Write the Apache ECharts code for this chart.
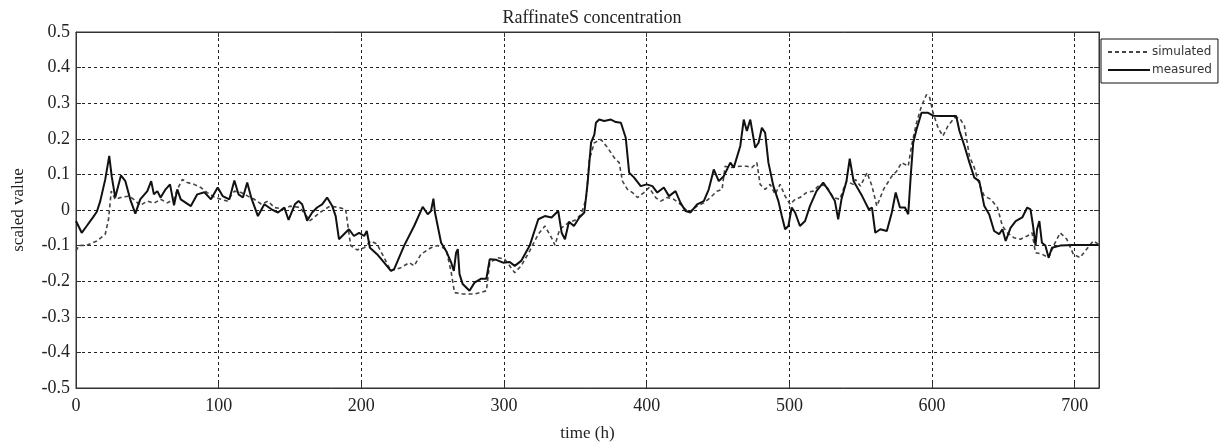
<!DOCTYPE html>
<html lang="en">
  <head>
    <meta charset="UTF-8">
    <title>RaffinateS concentration</title>
    <script src="https://cdn.jsdelivr.net/npm/echarts@6/dist/echarts.min.js"></script>
    <style>
      html, body { margin: 0; padding: 0; background: #fff; }
    </style>
  </head>
  <body>
    <div id="main" style="width: 1229px;height:447px;"></div>
    <script type="text/javascript">
      // time axis (h) and scaled values
      var measTime = [0, 4, 7.5, 12, 14.6, 17, 20.5, 23.3, 25, 27.5, 31.5, 34.6, 38, 41.6, 45, 50, 52.7, 54.6, 57, 59.3,
        62.8, 65.9, 68.7, 71, 73.4, 80.5, 85, 90, 94.6, 99.3, 102.8, 107.5, 111, 113.9, 117, 120, 122.8, 127.5, 132, 137,
        141.6, 146, 149, 153.4, 156, 158.5, 162, 165.5, 169, 172.5, 176, 179.6, 182, 184.3, 187.8, 191.3, 194.8, 198.4, 202, 203.8,
        206, 211, 216, 220.7, 223, 230, 237, 243, 246.5, 248.8, 250.5, 251.6, 255.9, 259.4, 263, 264.8, 266.4, 267.6, 268.8, 271,
        275.8, 279.3, 284, 287.6, 290, 294.6, 299.3, 304, 307.5, 312, 318, 324, 328.6, 333.3, 338, 340.4, 342.7, 345.5, 349, 352.8,
        356.3, 358.6, 361, 363.3, 364.4, 366.7, 370.2, 374.9, 378.4, 381.9, 385.3, 387.7, 391.2, 395.8, 400, 404, 407.4, 412, 415.6, 420.2,
        423.7, 427.2, 430.7, 435.3, 440, 443.5, 447, 450.5, 454, 458.6, 461, 465.6, 468, 470.2, 472.6, 476, 478.4, 480.7, 483, 485.3,
        488.8, 492.3, 494.7, 497, 499.3, 501.6, 504, 507.4, 511, 514.4, 519, 523.7, 528.4, 531.9, 534.2, 536.5, 540, 542.3, 545, 551,
        555.6, 557.9, 560.2, 563.7, 568.3, 571.8, 574.5, 577.5, 581, 583.3, 585.2, 586.8, 589.1, 592.6, 597.2, 600.7, 606.5, 616.9, 619.2, 622.7,
        626.2, 629.6, 633.1, 636.6, 640, 643.5, 647, 649.3, 651.6, 655, 658.6, 663.2, 666.7, 669, 670.8, 672.5, 673.6, 675.2, 677, 679.4,
        681.7, 684, 689.8, 699, 716.7];
    var measValue = [-0.031, -0.064, -0.045, -0.02, -0.005, 0.025, 0.086, 0.152, 0.095, 0.035, 0.097, 0.081, 0.03, -0.01, 0.03, 0.053, 0.081, 0.044, 0.053, 0.035,
        0.058, 0.072, 0.013, 0.058, 0.03, 0.011, 0.044, 0.05, 0.03, 0.063, 0.039, 0.03, 0.083, 0.044, 0.035, 0.077, 0.035, -0.017, 0.016, 0.002,
        -0.007, 0.007, -0.028, 0.016, 0.025, 0.016, -0.03, -0.007, 0.007, 0.016, 0.035, 0.011, -0.017, -0.082, -0.068, -0.054, -0.073, -0.064, -0.073, -0.059,
        -0.106, -0.124, -0.148, -0.171, -0.166, -0.1, -0.045, 0.009, -0.012, -0.003, 0.032, -0.007, -0.092, -0.115, -0.148, -0.171, -0.12, -0.11, -0.18, -0.208,
        -0.227, -0.204, -0.193, -0.193, -0.138, -0.14, -0.148, -0.146, -0.157, -0.143, -0.1, -0.026, -0.017, -0.021, -0.003, -0.064, -0.082, -0.033, -0.045, -0.021,
        -0.007, 0.077, 0.189, 0.212, 0.245, 0.254, 0.25, 0.254, 0.247, 0.245, 0.203, 0.105, 0.091, 0.067, 0.072, 0.067, 0.049, 0.063, 0.039, 0.053,
        0.02, -0.003, -0.007, 0.016, 0.025, 0.058, 0.114, 0.081, 0.095, 0.133, 0.119, 0.18, 0.254, 0.222, 0.254, 0.175, 0.189, 0.231, 0.217, 0.133,
        0.067, 0.025, -0.017, -0.054, -0.045, 0.007, -0.007, -0.045, -0.031, 0.011, 0.053, 0.077, 0.049, 0.025, -0.026, 0.03, 0.081, 0.144, 0.081, 0.039,
        0.002, 0.007, -0.064, -0.054, -0.059, -0.007, 0.049, 0.007, 0.007, -0.012, 0.105, 0.189, 0.226, 0.273, 0.273, 0.265, 0.264, 0.264, 0.222, 0.18,
        0.133, 0.091, 0.081, 0.011, -0.012, -0.059, -0.068, -0.054, -0.087, -0.05, -0.031, -0.021, 0.007, 0.002, -0.045, -0.1, -0.054, -0.031, -0.092, -0.1,
        -0.134, -0.106, -0.1, -0.098, -0.098];

      var simTime = [0, 2, 7.5, 14.6, 20.5, 22.8, 24.7, 27.5, 32, 37, 40.5, 45, 50, 54.6, 59.3, 64, 68.7, 71, 74.6, 78,
        82.8, 87.5, 92, 97, 101.6, 106, 111, 115.8, 120.5, 125, 130, 134.6, 139, 146, 150, 157, 164, 171, 178, 184.3,
        189, 192.5, 197, 202, 206.6, 211, 216, 220.7, 227.7, 233.6, 237, 241.8, 248.8, 253.5, 259.4, 263, 265.3, 271, 279.3, 287.6,
        290, 295.8, 300.5, 307.5, 312, 318, 324, 328.6, 333.3, 335.7, 339, 345, 350, 354, 357.5, 359.8, 363.3, 368, 372.6, 377.2,
        380.7, 383, 386.5, 390, 393.5, 398, 401.6, 406.3, 409.8, 414.4, 419, 423.7, 429.5, 435.3, 440, 444.6, 449.3, 452.8, 455, 458.6,
        465.6, 470.2, 473.7, 477.2, 479.5, 483, 486.5, 490, 493.5, 497, 500.5, 504, 507.4, 512, 516.7, 521.4, 526, 530.7, 535.3, 540,
        544.7, 546.3, 549.8, 554.4, 557.9, 561.3, 566, 571.8, 575.2, 578.7, 583.3, 585.6, 589.1, 592.6, 596.1, 598.4, 600.7, 604.2, 607.6, 611.1,
        615.7, 619.2, 622.7, 626.2, 629.6, 633.1, 636.6, 641.2, 645.8, 649.3, 652.8, 657.4, 662, 666.7, 670.1, 672.5, 677.1, 681.7, 685.2, 689.8,
        694.4, 699, 703.7, 708.3, 713, 716.7];
      var simValue = [-0.115, -0.1, -0.099, -0.087, -0.068, -0.026, 0.053, 0.03, 0.036, 0.039, 0.03, 0.013, 0.025, 0.019, 0.03, 0.02, 0.03, 0.058, 0.086, 0.077,
        0.072, 0.063, 0.049, 0.036, 0.03, 0.025, 0.053, 0.049, 0.039, 0.03, 0.016, 0.025, 0.007, 0.002, 0.011, 0.007, -0.03, -0.007, 0.011, 0.007,
        0.002, -0.1, -0.112, -0.106, -0.087, -0.096, -0.134, -0.171, -0.162, -0.148, -0.157, -0.124, -0.106, -0.1, -0.11, -0.176, -0.232, -0.236, -0.236, -0.227,
        -0.148, -0.134, -0.138, -0.176, -0.157, -0.115, -0.068, -0.045, -0.078, -0.099, -0.054, -0.036, -0.028, -0.012, 0.03, 0.142, 0.189, 0.198, 0.175, 0.147,
        0.133, 0.081, 0.058, 0.049, 0.035, 0.049, 0.063, 0.035, 0.025, 0.035, 0.03, 0.016, -0.007, 0.011, 0.02, 0.035, 0.053, 0.058, 0.123, 0.119,
        0.123, 0.123, 0.119, 0.133, 0.072, 0.058, 0.072, 0.044, 0.072, 0.039, 0.016, 0.03, 0.035, 0.049, 0.053, 0.072, 0.067, 0.035, 0.03, 0.081,
        0.072, 0.086, 0.067, 0.105, 0.067, 0.011, 0.058, 0.095, 0.109, 0.133, 0.123, 0.18, 0.245, 0.292, 0.324, 0.315, 0.273, 0.231, 0.208, 0.236,
        0.259, 0.259, 0.236, 0.151, 0.119, 0.072, 0.039, 0.03, 0.007, -0.045, -0.064, -0.078, -0.082, -0.073, -0.064, -0.12, -0.124, -0.134, -0.1, -0.064,
        -0.082, -0.124, -0.134, -0.11, -0.087, -0.096];

      function pairs(xs, ys) {
        var out = [];
        for (var i = 0; i < xs.length; i++) out.push([xs[i], ys[i]]);
        return out;
      }

      var serif = 'Liberation Serif';
      var gridLine = { show: true, lineStyle: { color: '#222', type: [3, 3], width: 1 } };

      var myChart = echarts.init(document.getElementById('main'));
      myChart.setOption({
        backgroundColor: '#fff',
        animation: false,
        title: {
          text: 'RaffinateS concentration',
          left: 587, top: 4, textAlign: 'center',
          textStyle: { fontFamily: serif, fontSize: 18, fontWeight: 'normal', color: '#222' }
        },
        legend: {
          left: 1101, top: 39, orient: 'vertical',
          backgroundColor: '#fff', borderColor: '#111', borderWidth: 1,
          padding: [7, 6, 7, 6], itemGap: 6, itemWidth: 42, itemHeight: 12,
          itemStyle: { opacity: 0 },
          textStyle: { fontFamily: 'DejaVu Sans', fontSize: 12, color: '#333', padding: [0, 0, 0, -3] },
          data: ['simulated', 'measured']
        },
        grid: {
          left: 76, right: 130, top: 32, bottom: 59,
          show: true, borderColor: '#333', borderWidth: 1, backgroundColor: 'transparent'
        },
        xAxis: [{
          type: 'value', min: 0, max: 717, interval: 100,
          name: 'time (h)', nameLocation: 'middle', nameGap: 37,
          nameTextStyle: { fontFamily: serif, fontSize: 17, color: '#222' },
          axisLine: { show: true, onZero: false, lineStyle: { color: '#333' } },
          axisTick: { show: true, inside: true, length: 5, lineStyle: { color: '#333' } },
          axisLabel: { fontFamily: serif, fontSize: 18, color: '#222', margin: 9 },
          splitLine: gridLine
        }, {
          type: 'value', position: 'top', min: 0, max: 717, interval: 100,
          axisLine: { show: true, onZero: false, lineStyle: { color: '#333' } },
          axisTick: { show: true, inside: true, length: 5, lineStyle: { color: '#333' } },
          axisLabel: { show: false }, splitLine: { show: false }
        }],
        yAxis: [{
          type: 'value', min: -0.5, max: 0.5, interval: 0.1,
          name: 'scaled value', nameLocation: 'middle', nameGap: 49,
          nameTextStyle: { fontFamily: serif, fontSize: 17, color: '#222' },
          axisLine: { show: true, onZero: false, lineStyle: { color: '#333' } },
          axisTick: { show: true, inside: true, length: 5, lineStyle: { color: '#333' } },
          axisLabel: {
            fontFamily: serif, fontSize: 18, color: '#222', margin: 6,
            formatter: function (v) { return String(Math.round(v * 10) / 10); }
          },
          splitLine: gridLine
        }, {
          type: 'value', position: 'right', min: -0.5, max: 0.5, interval: 0.1,
          axisLine: { show: true, onZero: false, lineStyle: { color: '#333' } },
          axisTick: { show: true, inside: true, length: 5, lineStyle: { color: '#333' } },
          axisLabel: { show: false }, splitLine: { show: false }
        }],
        series: [{
          name: 'simulated', type: 'line', showSymbol: false, symbol: 'none',
          lineStyle: { color: '#444', width: 1.6, type: [4, 3] },
          itemStyle: { color: '#444' },
          data: pairs(simTime, simValue)
        }, {
          name: 'measured', type: 'line', showSymbol: false, symbol: 'none',
          lineStyle: { color: '#111', width: 2 },
          itemStyle: { color: '#111' },
          data: pairs(measTime, measValue)
        }]
      });
    </script>
  </body>
</html>
